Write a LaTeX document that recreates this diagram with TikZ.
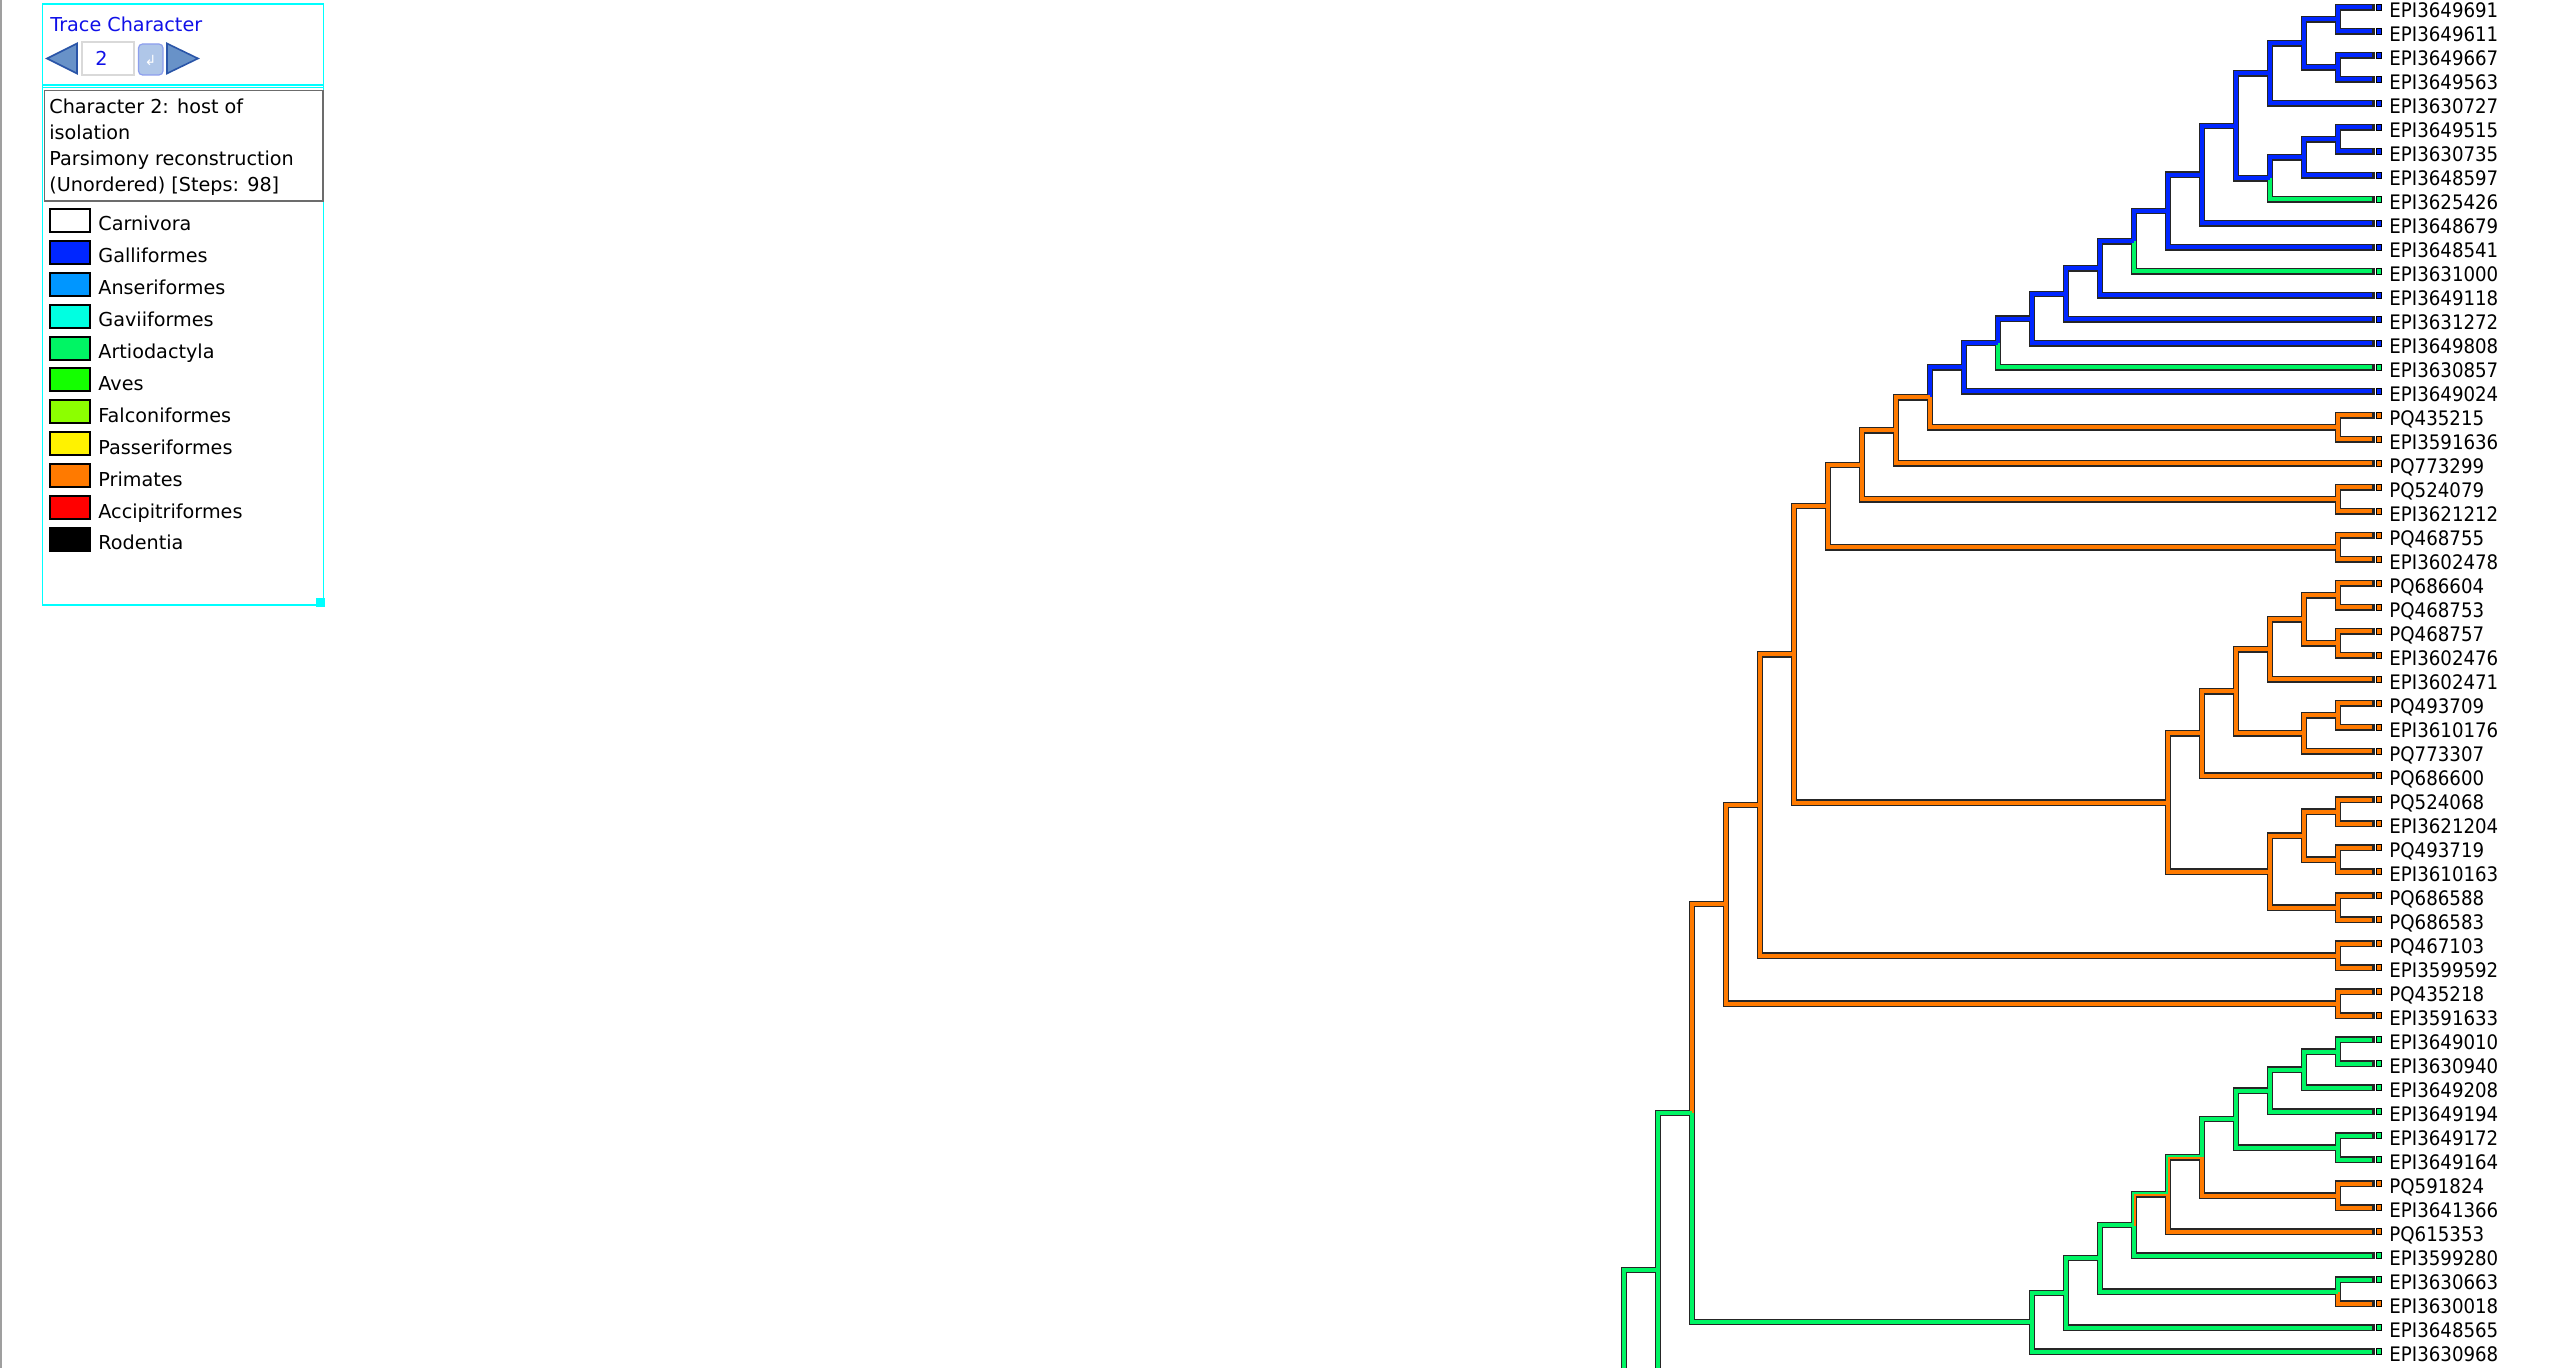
\documentclass[tikz,border=0pt]{standalone}
\usepackage{fontspec}
\usepackage{tikz}
\usetikzlibrary{calc}
\newfontfamily\leaffont[FakeStretch=0.91]{DejaVu Sans}
\newfontfamily\panelfont{DejaVu Sans}
\definecolor{GalliBlue}{HTML}{0026FF}
\definecolor{AnserBlue}{HTML}{0096FF}
\definecolor{GaviCyan}{HTML}{00FFE1}
\definecolor{ArtioGreen}{HTML}{00F564}
\definecolor{AvesGreen}{HTML}{14FF00}
\definecolor{FalcoLime}{HTML}{8CFF00}
\definecolor{PasserYellow}{HTML}{FFF200}
\definecolor{PrimOrange}{HTML}{FF7A00}
\definecolor{AccipRed}{HTML}{FF0000}
\definecolor{PanelCyan}{HTML}{00FFFF}
\definecolor{TitleBlue}{HTML}{1010E8}
\definecolor{ArrowFill}{HTML}{6892C8}
\definecolor{ArrowEdge}{HTML}{2A55A8}
\definecolor{ButtonFill}{HTML}{AFC6E8}

% parent/child/state of each branch
\newcommand{\branchlist}{%
  a1/L1/GalliBlue, a1/L2/GalliBlue, a2/L3/GalliBlue, a2/L4/GalliBlue,
  a3/a1/GalliBlue, a3/a2/GalliBlue, a4/a3/GalliBlue, a4/L5/GalliBlue,
  a5/L6/GalliBlue, a5/L7/GalliBlue, a6/a5/GalliBlue, a6/L8/GalliBlue,
  a7/a6/GalliBlue, a7/L9/ArtioGreen, a8/a4/GalliBlue, a8/a7/GalliBlue,
  a9/a8/GalliBlue, a9/L10/GalliBlue, a10/a9/GalliBlue, a10/L11/GalliBlue,
  a11/a10/GalliBlue, a11/L12/ArtioGreen, a12/a11/GalliBlue, a12/L13/GalliBlue,
  a13/a12/GalliBlue, a13/L14/GalliBlue, a14/a13/GalliBlue, a14/L15/GalliBlue,
  a15/a14/GalliBlue, a15/L16/ArtioGreen, a16/a15/GalliBlue, a16/L17/GalliBlue,
  b1/L18/PrimOrange, b1/L19/PrimOrange, b2/a16/GalliBlue, b2/b1/PrimOrange,
  b3/b2/PrimOrange, b3/L20/PrimOrange, b4/L21/PrimOrange, b4/L22/PrimOrange,
  b5/b3/PrimOrange, b5/b4/PrimOrange, b6/L23/PrimOrange, b6/L24/PrimOrange,
  b7/b5/PrimOrange, b7/b6/PrimOrange,
  c1/L25/PrimOrange, c1/L26/PrimOrange, c2/L27/PrimOrange, c2/L28/PrimOrange,
  c3/c1/PrimOrange, c3/c2/PrimOrange, c4/c3/PrimOrange, c4/L29/PrimOrange,
  c5/L30/PrimOrange, c5/L31/PrimOrange, c6/c5/PrimOrange, c6/L32/PrimOrange,
  c7/c4/PrimOrange, c7/c6/PrimOrange, c8/c7/PrimOrange, c8/L33/PrimOrange,
  c9/L34/PrimOrange, c9/L35/PrimOrange, c10/L36/PrimOrange, c10/L37/PrimOrange,
  c11/c9/PrimOrange, c11/c10/PrimOrange, c12/L38/PrimOrange, c12/L39/PrimOrange,
  c13/c11/PrimOrange, c13/c12/PrimOrange, c14/c8/PrimOrange, c14/c13/PrimOrange,
  b8/b7/PrimOrange, b8/c14/PrimOrange, b9/L40/PrimOrange, b9/L41/PrimOrange,
  b10/b8/PrimOrange, b10/b9/PrimOrange, b11/L42/PrimOrange, b11/L43/PrimOrange,
  b12/b10/PrimOrange, b12/b11/PrimOrange,
  g1/L44/ArtioGreen, g1/L45/ArtioGreen, g2/g1/ArtioGreen, g2/L46/ArtioGreen,
  g3/g2/ArtioGreen, g3/L47/ArtioGreen, g4/L48/ArtioGreen, g4/L49/ArtioGreen,
  g5/g3/ArtioGreen, g5/g4/ArtioGreen, g6/L50/PrimOrange, g6/L51/PrimOrange,
  g7/g5/ArtioGreen, g7/g6/PrimOrange, g8/g7/ArtioGreen, g8/L52/PrimOrange,
  g9/g8/ArtioGreen, g9/L53/ArtioGreen, g10/L54/ArtioGreen, g10/L55/PrimOrange,
  g11/g9/ArtioGreen, g11/g10/ArtioGreen, g12/g11/ArtioGreen, g12/L56/ArtioGreen,
  g13/g12/ArtioGreen, g13/L57/ArtioGreen,
  r20/b12/PrimOrange, r20/g13/ArtioGreen, r21/r20/ArtioGreen, r21/x21/ArtioGreen,
  r22/r21/ArtioGreen, r22/x22/ArtioGreen}

\begin{document}
\begin{tikzpicture}[x=0.5pt, y=-0.5pt,
    edgeline/.style={draw=black!85, line width=3.25pt, line cap=rect, line join=miter},
    edgefill/.style={line width=2pt, line cap=butt, line join=miter},
    tipmark/.style={rectangle, draw=black, line width=0.5pt, minimum size=2.6pt, inner sep=0pt},
    leaflab/.style={anchor=base west, inner sep=0pt, font=\leaffont\fontsize{10pt}{11pt}\selectfont},
    paneltext/.style={anchor=base west, inner sep=0pt, font=\panelfont\fontsize{9.6pt}{11pt}\selectfont},
    legsq/.style={draw=black, line width=1pt}
  ]
  \useasboundingbox (0,0) rectangle (2564,1368);
  \fill[white] (0,0) rectangle (2564,1368);
  \clip (0,0) rectangle (2564,1368);

  % window edge
  \draw[gray!75, line width=1pt] (1,0) -- (1,1368);

  % leaves
  \foreach \lab/\col [count=\i] in {
      EPI3649691/GalliBlue, EPI3649611/GalliBlue, EPI3649667/GalliBlue, EPI3649563/GalliBlue,
      EPI3630727/GalliBlue, EPI3649515/GalliBlue, EPI3630735/GalliBlue, EPI3648597/GalliBlue,
      EPI3625426/ArtioGreen, EPI3648679/GalliBlue, EPI3648541/GalliBlue, EPI3631000/ArtioGreen,
      EPI3649118/GalliBlue, EPI3631272/GalliBlue, EPI3649808/GalliBlue, EPI3630857/ArtioGreen,
      EPI3649024/GalliBlue, PQ435215/PrimOrange, EPI3591636/PrimOrange, PQ773299/PrimOrange,
      PQ524079/PrimOrange, EPI3621212/PrimOrange, PQ468755/PrimOrange, EPI3602478/PrimOrange,
      PQ686604/PrimOrange, PQ468753/PrimOrange, PQ468757/PrimOrange, EPI3602476/PrimOrange,
      EPI3602471/PrimOrange, PQ493709/PrimOrange, EPI3610176/PrimOrange, PQ773307/PrimOrange,
      PQ686600/PrimOrange, PQ524068/PrimOrange, EPI3621204/PrimOrange, PQ493719/PrimOrange,
      EPI3610163/PrimOrange, PQ686588/PrimOrange, PQ686583/PrimOrange, PQ467103/PrimOrange,
      EPI3599592/PrimOrange, PQ435218/PrimOrange, EPI3591633/PrimOrange, EPI3649010/ArtioGreen,
      EPI3630940/ArtioGreen, EPI3649208/ArtioGreen, EPI3649194/ArtioGreen, EPI3649172/ArtioGreen,
      EPI3649164/ArtioGreen, PQ591824/PrimOrange, EPI3641366/PrimOrange, PQ615353/PrimOrange,
      EPI3599280/ArtioGreen, EPI3630663/ArtioGreen, EPI3630018/PrimOrange, EPI3648565/ArtioGreen,
      EPI3630968/ArtioGreen} {
    \coordinate (L\i) at (2372,{7.5+24*(\i-1)});
    \node[tipmark, fill=\col] (tip\i) at (2379,{7.5+24*(\i-1)}) {};
    \node[leaflab] (lab\i) at (2389,{17.5+24*(\i-1)}) {\lab};
  }

  % clades below the window
  \coordinate (x21) at (1760,1427);
  \coordinate (x22) at (1700,1800);

  % inner nodes: name/height/children
  \foreach \n/\h/\ca/\cb in {
      a1/1/L1/L2, a2/1/L3/L4, a3/2/a1/a2, a4/3/a3/L5, a5/1/L6/L7, a6/2/a5/L8,
      a7/3/a6/L9, a8/4/a4/a7, a9/5/a8/L10, a10/6/a9/L11, a11/7/a10/L12,
      a12/8/a11/L13, a13/9/a12/L14, a14/10/a13/L15, a15/11/a14/L16, a16/12/a15/L17,
      b1/1/L18/L19, b2/13/a16/b1, b3/14/b2/L20, b4/1/L21/L22, b5/15/b3/b4,
      b6/1/L23/L24, b7/16/b5/b6,
      c1/1/L25/L26, c2/1/L27/L28, c3/2/c1/c2, c4/3/c3/L29, c5/1/L30/L31,
      c6/2/c5/L32, c7/4/c4/c6, c8/5/c7/L33, c9/1/L34/L35, c10/1/L36/L37,
      c11/2/c9/c10, c12/1/L38/L39, c13/3/c11/c12, c14/6/c8/c13,
      b8/17/b7/c14, b9/1/L40/L41, b10/18/b8/b9, b11/1/L42/L43, b12/19/b10/b11,
      g1/1/L44/L45, g2/2/g1/L46, g3/3/g2/L47, g4/1/L48/L49, g5/4/g3/g4,
      g6/1/L50/L51, g7/5/g5/g6, g8/6/g7/L52, g9/7/g8/L53, g10/1/L54/L55,
      g11/8/g9/g10, g12/9/g11/L56, g13/10/g12/L57,
      r20/20/b12/g13, r21/21/r20/x21, r22/22/r21/x22} {
    \coordinate (mid) at ($(\ca)!0.5!(\cb)$);
    \coordinate (col) at ({2372-34*\h},0);
    \coordinate (\n) at (mid -| col);
  }

  % branches: outline, then state colour
  \foreach \p/\c/\col in \branchlist {
    \draw[edgeline] (\p) |- (\c);
  }
  \foreach \p/\c/\col in \branchlist {
    \draw[edgefill, draw=\col] (\p) |- (\c);
  }
  % equivocal branches
  \foreach \p/\c in {g8/g7, g9/g8} {
    \draw[edgefill, line width=1pt, draw=PrimOrange]
      ([shift={(1,1)}]\p) |- ([shift={(1,1)}]\c);
  }

  % trace character panel
  \draw[PanelCyan, line width=0.6pt] (42.5,4) rectangle (323.5,605);
  \draw[PanelCyan, line width=0.6pt] (42.5,85) -- (323.5,85);
  \draw[PanelCyan, line width=0.6pt] (42.5,87.5) -- (323.5,87.5);
  \fill[PanelCyan] (316,598) rectangle (325,607);
  \node[paneltext, text=TitleBlue] (title) at (50,32) {Trace Character};
  \filldraw[fill=ArrowFill, draw=ArrowEdge, line width=0.8pt]
    (47,58.5) -- (77,43.5) -- (77,73.5) -- cycle;
  \filldraw[fill=white, draw=gray!30, line width=0.6pt] (82,42) rectangle (134,75);
  \node[paneltext, text=TitleBlue] (charno) at (95,66) {2};
  \filldraw[fill=ButtonFill, draw=ButtonFill!80!blue, line width=0.6pt, rounded corners=2pt]
    (138.5,44) rectangle (163,75);
  \node[font=\panelfont\fontsize{7pt}{8pt}\selectfont, text=white] (enter) at (150.5,61) {↲};
  \filldraw[fill=ArrowFill, draw=ArrowEdge, line width=0.8pt]
    (198,58.5) -- (167,43.5) -- (167,73.5) -- cycle;

  \draw[gray!85!black, line width=0.8pt] (44.5,90.5) rectangle (323,201);
  \node[paneltext] (info1) at (49,114) {Character 2: host of};
  \node[paneltext] (info2) at (49,140) {isolation};
  \node[paneltext] (info3) at (49,166) {Parsimony reconstruction};
  \node[paneltext] (info4) at (49,192) {(Unordered) [Steps: 98]};

  \foreach \lab/\col [count=\k from 0] in {
      Carnivora/white, Galliformes/GalliBlue, Anseriformes/AnserBlue,
      Gaviiformes/GaviCyan, Artiodactyla/ArtioGreen, Aves/AvesGreen,
      Falconiformes/FalcoLime, Passeriformes/PasserYellow, Primates/PrimOrange,
      Accipitriformes/AccipRed, Rodentia/black} {
    \filldraw[legsq, fill=\col] (50,{209+31.9*\k}) rectangle (90,{232+31.9*\k});
    \node[paneltext] (leg\k) at (98,{231+31.9*\k}) {\lab};
  }
\end{tikzpicture}
\end{document}
